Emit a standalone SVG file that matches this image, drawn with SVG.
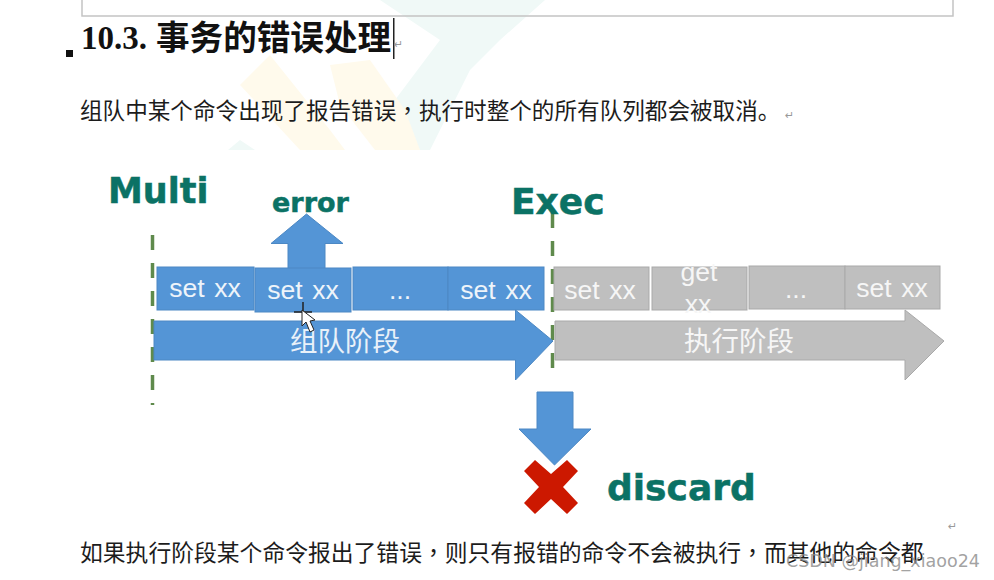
<svg xmlns="http://www.w3.org/2000/svg" width="994" height="580" viewBox="0 0 994 580">
<style>
.cjk{font-family:"Noto Sans CJK SC","Liberation Sans",sans-serif}
.tc{font-family:"Noto Sans CJK TC","Liberation Sans",sans-serif}
.body{font-size:22.6px;fill:#1c1c1c}
.blue{fill:#5495d6;stroke:#4c88c4;stroke-width:1}
.grey{fill:#bfbfbf;stroke:#a9a9a9;stroke-width:1}
.cmd{font-family:"Liberation Sans",Arial,sans-serif;font-size:26.6px;word-spacing:2px;fill:#eef4fa;text-anchor:middle}
.gcmd{fill:#f6f6f6}
.phase{font-size:27.5px;fill:#e9f1f9;text-anchor:middle}
.gphase{fill:#f6f6f6}
.teal{font-family:"DejaVu Sans",sans-serif;font-weight:700;fill:#0b7265;stroke:#0b7265;stroke-width:.5}
.dash{fill:none;stroke:#5f8a4c;stroke-width:3.5;stroke-dasharray:15 13}
.mark{font-family:"DejaVu Sans",sans-serif;font-size:11px;fill:#999}
</style>
<rect width="994" height="580" fill="#fff"/>
<g id="background-mark">
<polygon points="380,0 470,0 545,0 500,40 470,70 430,150 395,150 395,100 440,40" fill="#f0f9f7"/>
<polygon points="270,55 330,130 345,150 300,150 240,85" fill="#fffaec"/>
<polygon points="370,60 405,110 420,150 375,150 340,105 330,65" fill="#fffaec"/>
<polygon points="228,150 240,140 255,150" fill="#f0f9f7"/>
</g>
<g id="page-frame"><path d="M82,0V16H953V0" fill="none" stroke="#c4c4c4" stroke-width="1.5"/></g>
<g id="heading">
<rect x="66" y="50" width="7" height="7" fill="#111"/>
<text x="81" y="49" font-family="Liberation Serif,serif" font-weight="700" font-size="33" fill="#111">10.3.</text>
<text x="156" y="50" class="cjk" font-weight="700" font-size="33.6" fill="#111">事务的错误处理</text>
<rect x="393" y="18" width="1.5" height="41" fill="#222"/>
<text x="394" y="48" class="mark">↵</text>
</g>
<g id="intro">
<text x="80" y="119" class="cjk body">组队中某个命令出现了报告错误<tspan class="tc">，</tspan>执行时整个的所有队列都会被取消。</text>
<text x="785" y="119" class="mark">↵</text>
</g>
<g id="connectors">
<path class="dash" d="M152.500,235V405"/>
<path class="dash" d="M552.500,213V376"/>
</g>
<g id="multi-label"><text x="108" y="203" class="teal" font-size="35">Multi</text></g>
<g id="exec-label"><text x="511" y="214" class="teal" font-size="36">Exec</text></g>
<g id="error-label"><text x="272" y="212" class="teal" font-size="27">error</text></g>
<g id="error-arrow"><polygon class="blue" points="306.500,214 343,243.500 325,243.500 325,271 288,271 288,243.500 271,243.500"/></g>
<g id="cmd-1"><rect class="blue" x="157" y="267" width="97" height="43"/><text class="cmd" x="205" y="297">set xx</text></g>
<g id="cmd-2"><rect class="blue" x="255" y="268" width="96" height="44"/><text class="cmd" x="303" y="299">set xx</text></g>
<g id="cmd-3"><rect class="blue" x="353" y="267" width="95" height="43"/><text class="cmd" x="400" y="299">...</text></g>
<g id="cmd-4"><rect class="blue" x="448" y="267" width="96" height="43"/><text class="cmd" x="496" y="299">set xx</text></g>
<g id="queue-phase"><polygon class="blue" points="154,321 515.500,321 515.500,310 553,341 515.500,380 515.500,360 154,360"/><text class="cjk phase" x="345" y="351">组队阶段</text></g>
<g id="cmd-5"><rect class="grey" x="554" y="267" width="95" height="43"/><text class="cmd gcmd" x="600" y="299">set xx</text></g>
<g id="cmd-6"><rect class="grey" x="652" y="267" width="95" height="43"/><text class="cmd gcmd" x="699" y="281">get</text><text class="cmd gcmd" x="698" y="313">xx</text></g>
<g id="cmd-7"><rect class="grey" x="749" y="266" width="96" height="43"/><text class="cmd gcmd" x="796" y="298">...</text></g>
<g id="cmd-8"><rect class="grey" x="845" y="266" width="95" height="43"/><text class="cmd gcmd" x="892" y="297">set xx</text></g>
<g id="exec-phase"><polygon class="grey" points="555,321 905,321 905,310 944,341 905,380 905,360 555,360"/><text class="cjk phase gphase" x="739" y="351">执行阶段</text></g>
<g id="discard-arrow"><polygon class="blue" points="537,392 573,392 573,429 591,429 554.500,465 519,429 537,429"/></g>
<g id="discard-x"><polygon fill="#cc1800" points="535,460 551,474 567,460 578,471 563,487 578,503 567,514 551,499 535,514 524,503 539,487 524,471"/></g>
<g id="discard-label"><text x="607" y="500" class="teal" font-size="36">discard</text></g>
<g id="cursor">
<path d="M303,302V322M294,312H312" stroke="#222" stroke-width="1.500" fill="none"/>
<polygon points="302,310 302,326 306,322 310,332 314,330 310,321 315,320" fill="#fff" stroke="#222" stroke-width="1"/>
</g>
<g id="following-text">
<text x="948" y="530" class="mark">↵</text>
<text x="80" y="561" class="cjk body" style="font-size:22.8px">如果执行阶段某个命令报出了错误<tspan class="tc">，</tspan>则只有报错的命令不会被执行<tspan class="tc">，</tspan>而其他的命令都</text>
</g>
<g id="watermark"><text x="786" y="567" font-family="DejaVu Sans,sans-serif" font-size="17.500" fill="#8a8a8a" fill-opacity="0.8">CSDN @jiang_xiaoo24</text></g>
</svg>
